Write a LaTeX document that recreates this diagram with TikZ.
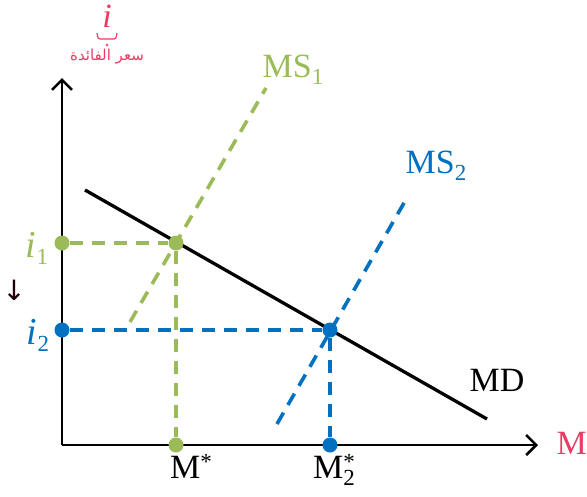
\documentclass[tikz,border=0pt]{standalone}
\usepackage{fontspec}
\setmainfont{Liberation Serif}
\newfontfamily\arabicfont[Script=Arabic]{DejaVu Sans}
\newfontfamily\symfont{DejaVu Sans}
\TeXXeTstate=1
\usetikzlibrary{arrows.meta}
\definecolor{gr}{RGB}{155,187,89}
\definecolor{bl}{RGB}{0,112,192}
\definecolor{pk}{RGB}{232,60,100}
\newcommand{\mysub}[1]{\raisebox{-7pt}{\fontsize{23}{25}\selectfont #1}}
\newcommand{\mysup}[1]{\raisebox{9pt}{\fontsize{23}{25}\selectfont #1}}
\tikzset{
  axis/.style={line width=2.5pt,-{Straight Barb[length=10pt,width=20pt,line width=2.5pt]}},
  gdash/.style={gr,line width=3.6pt,dash pattern=on 13pt off 9pt},
  bdash/.style={bl,line width=3.6pt,dash pattern=on 13pt off 9pt},
  gdot/.style={circle,fill=gr,inner sep=0pt,minimum size=15pt},
  bdot/.style={circle,fill=bl,inner sep=0pt,minimum size=15pt},
  lab/.style={font=\fontsize{34}{38}\selectfont,inner sep=0pt},
  ilab/.style={font=\fontsize{38}{42}\selectfont,inner sep=0pt},
}
\begin{document}
\begin{tikzpicture}[x=1pt,y=-1pt]
\useasboundingbox (0,0) rectangle (587,496);
% axes
\coordinate (O) at (62,445);
\coordinate (Ytop) at (62,78);
\coordinate (Xend) at (538,445);
\draw[axis] (O) -- (Ytop);
\draw[axis] (O) -- (Xend);
% MD
\coordinate (md1) at (85,190);
\coordinate (md2) at (487,419);
\draw[line width=3.3pt] (md1) -- (md2);
% MS1
\coordinate (ms1a) at (130,322);
\coordinate (ms1b) at (266,88);
\draw[gdash] (ms1a) -- (ms1b);
% MS2
\coordinate (ms2a) at (277,424);
\coordinate (ms2b) at (408,196);
\draw[bdash] (ms2a) -- (ms2b);
% green points
\node[gdot] (gi) at (62,243) {};
\node[gdot] (ge) at (176,243) {};
\node[gdot] (gm) at (176,445) {};
\draw[gdash] (gi) -- (ge);
\draw[gdash] (ge) -- (gm);
% blue points
\node[bdot] (bi) at (62,330) {};
\node[bdot] (be) at (330,330) {};
\node[bdot] (bm) at (330,445) {};
\draw[bdash] (bi) -- (be);
\draw[bdash] (be) -- (bm);
% labels
\node[ilab,text=gr] (li1) at (37,248) {\textit{i}\mysub{1}};
\node[ilab,text=bl] (li2) at (38,335) {\textit{i}\mysub{2}};
\node[font=\symfont\fontsize{28}{30}\selectfont,text=black!85!purple] (arr) at (14,290) {↓};
\node[lab] (lm1) at (191,466) {M\mysup{*}};
\node[lab] (lm2) at (334,470) {M\rlap{\mysup{*}}\mysub{2}};
\node[lab,text=gr] (lms1) at (293,70) {MS\mysub{1}};
\node[lab,text=bl] (lms2) at (436,166) {MS\mysub{2}};
\node[lab] (lmd) at (497,380) {MD};
\node[lab,text=pk,anchor=east] (lM) at (587,443) {M};
\node[font=\fontsize{34}{38}\selectfont\itshape,text=pk,inner sep=0pt] (ltop) at (107,16) {i};
\draw[pk,line width=1.2pt] (97,33) .. controls (98,39) .. (102,39) -- (112,39) .. controls (116,39) .. (117,33);
\fill[pk] (107,45) circle (1.3pt);
\node[font=\arabicfont\fontsize{15}{17}\selectfont,text=pk,inner sep=0pt] (lar) at (107,57) {\beginR سعر الفائدة\endR};
\end{tikzpicture}
\end{document}
